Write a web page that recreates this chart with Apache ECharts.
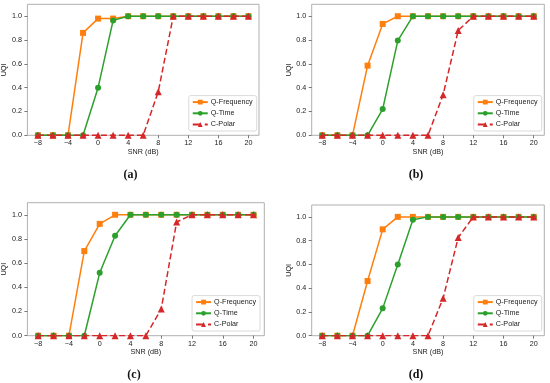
<!DOCTYPE html>
<html><head><meta charset="utf-8">
<script src="https://cdn.jsdelivr.net/npm/echarts@6/dist/echarts.min.js"></script>
<style>html,body{margin:0;padding:0;background:#fff}#c{width:550px;height:383px}</style>
</head><body><div id="c"></div>
<script>
var snr = [-8,-6,-4,-2,0,2,4,6,8,10,12,14,16,18,20];
var xTicks = [-8,-4,0,4,8,12,16,20];
var yTicks = [0,0.2,0.4,0.6,0.8,1.0];
var seriesNames = ['Q-Frequency','Q-Time','C-Polar'];
var panelLabels = ['(a)','(b)','(c)','(d)'];

var qFreqA = [0,0,0,0.86,0.98,0.98,1,1,1,1,1,1,1,1,1];
var qTimeA = [0,0,0,0,0.40,0.965,1,1,1,1,1,1,1,1,1];
var cPolarA = [0,0,0,0,0,0,0,0,0.365,1,1,1,1,1,1];

var qFreqB = [0,0,0,0.585,0.935,1,1,1,1,1,1,1,1,1,1];
var qTimeB = [0,0,0,0,0.22,0.795,1,1,1,1,1,1,1,1,1];
var cPolarB = [0,0,0,0,0,0,0,0,0.34,0.88,1,1,1,1,1];

var qFreqC = [0,0,0,0.70,0.925,1,1,1,1,1,1,1,1,1,1];
var qTimeC = [0,0,0,0,0.52,0.827,1,1,1,1,1,1,1,1,1];
var cPolarC = [0,0,0,0,0,0,0,0,0.22,0.94,1,1,1,1,1];

var qFreqD = [0,0,0,0.46,0.895,1,1,1,1,1,1,1,1,1,1];
var qTimeD = [0,0,0,0,0.23,0.60,0.975,1,1,1,1,1,1,1,1];
var cPolarD = [0,0,0,0,0,0,0,0,0.315,0.826,1,1,1,1,1];

var panels = [
  {vals:[qFreqA,qTimeA,cPolarA], grid:{left:26.5,top:4.3,width:232.5,height:131}, legend:{right:293.3,bottom:252}, label:{x:130.5,y:175}},
  {vals:[qFreqB,qTimeB,cPolarB], grid:{left:311.7,top:4.3,width:232.6,height:131}, legend:{right:8.3,bottom:252}, label:{x:416,y:175}},
  {vals:[qFreqC,qTimeC,cPolarC], grid:{left:26.7,top:202.7,width:237.6,height:133}, legend:{right:290,bottom:52}, label:{x:134,y:375}},
  {vals:[qFreqD,qTimeD,cPolarD], grid:{left:311.7,top:205,width:232.6,height:130.7}, legend:{right:8.3,bottom:52}, label:{x:416,y:375}}
];

var colors = ['#ff7f0e','#2ca02c','#d62728'];
var symbols = ['rect','circle','triangle'];
var lineTypes = ['solid','solid','dashed'];
var FONT = 'Liberation Sans, Arial, sans-serif';

var option = {animation:false, grid:[], xAxis:[], yAxis:[], series:[], legend:[], graphic:[]};
panels.forEach(function(p, i){
  option.grid.push(Object.assign({show:true, borderColor:'#b0b0b0', borderWidth:1, backgroundColor:'#fff'}, p.grid));
  option.xAxis.push({type:'value', gridIndex:i, min:-9.4, max:21.4, position:'bottom',
    name:'SNR (dB)', nameLocation:'middle', nameGap:13,
    nameTextStyle:{fontSize:7.2, color:'#222', fontFamily:FONT},
    axisLine:{show:false, onZero:false}, splitLine:{show:false},
    axisTick:{show:true, inside:false, length:3, lineStyle:{color:'#555', width:0.8}, customValues:xTicks},
    axisLabel:{fontSize:7.2, color:'#222', margin:4.5, fontFamily:FONT, customValues:xTicks,
      formatter:function(v){return v < 0 ? '\u2212' + Math.abs(v) : String(v);}}
  });
  option.yAxis.push({type:'value', gridIndex:i, min:0, max:1.1, position:'left',
    name:'UQI', nameLocation:'middle', nameGap:18, nameRotate:90,
    nameTextStyle:{fontSize:7.2, color:'#222', fontFamily:FONT},
    axisLine:{show:false, onZero:false}, splitLine:{show:false},
    axisTick:{show:true, inside:false, length:3, lineStyle:{color:'#555', width:0.8}, customValues:yTicks},
    axisLabel:{fontSize:7.2, color:'#222', margin:5.5, fontFamily:FONT, customValues:yTicks,
      formatter:function(v){return v.toFixed(1);}}
  });
  p.vals.forEach(function(arr, k){
    option.series.push({type:'line', name:seriesNames[k], xAxisIndex:i, yAxisIndex:i,
      data: snr.map(function(x, j){return [x, arr[j]];}),
      symbol:symbols[k], symbolSize: k===2 ? 7 : 6,
      itemStyle:{color:colors[k]}, lineStyle:{color:colors[k], width:1.5, type:lineTypes[k]},
      z: 2+k
    });
  });
  option.legend.push({orient:'vertical', right:p.legend.right, bottom:p.legend.bottom,
    data:seriesNames, itemWidth:15, itemHeight:6, itemGap:4.2,
    padding:[3,4,3,3], borderColor:'#d0d0d0', borderWidth:0.8, borderRadius:2,
    backgroundColor:'rgba(255,255,255,0.85)',
    textStyle:{fontSize:7.2, color:'#222', fontFamily:FONT, padding:[0,0,0,-2]},
    selectedMode:false
  });
  option.graphic.push({type:'text', x:p.label.x, y:p.label.y,
    style:{text:panelLabels[i], font:'bold 12px "Liberation Serif", "Times New Roman", serif', fill:'#111',
      textAlign:'center', textVerticalAlign:'middle'}});
});
var chart = echarts.init(document.getElementById('c'), null, {renderer:'canvas'});
chart.setOption(option);
</script></body></html>
